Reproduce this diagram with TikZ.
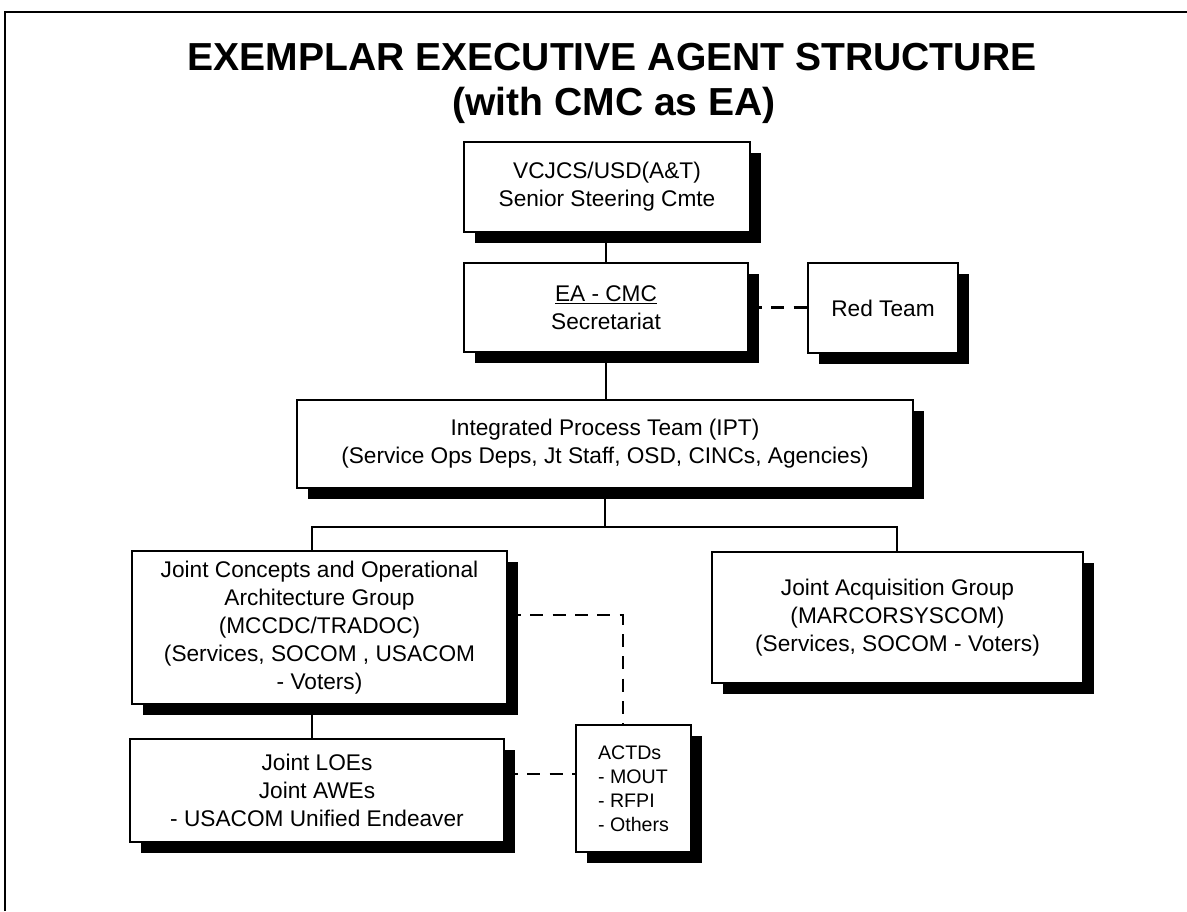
\documentclass[tikz,border=0pt]{standalone}
\usepackage{fontspec}
\setmainfont{Liberation Sans}
\usetikzlibrary{shadows,backgrounds}
\begin{document}
\begin{tikzpicture}[x=0.75pt,y=-0.75pt,
  box/.style={draw, line width=1.5pt, fill=white, inner sep=0pt, align=center,
    font=\fontsize{17}{21}\selectfont,
    drop shadow={shadow xshift=8.25pt, shadow yshift=-8.25pt, fill=black, opacity=1}},
  conn/.style={line width=1.3pt},
  dashconn/.style={line width=1.6pt, dash pattern=on 9.75pt off 7pt},
  titlefont/.style={font=\bfseries\fontsize{29.3}{37.5}\selectfont, anchor=base, inner sep=0pt}]
\useasboundingbox (0,0) rectangle (1187,911);

% frame
\draw[line width=2.2pt] (5,911) -- (5,12) -- (1187,12);

% title
\node[titlefont] (t1) at (612,70) {EXEMPLAR EXECUTIVE AGENT STRUCTURE};
\node[titlefont] (t2) at (614,115) {(with CMC as EA)};

% boxes
\node[box, minimum width=214.5pt, minimum height=67.5pt] (vc) at (607,187)
  {VCJCS/USD(A\&T)\\Senior Steering Cmte};
\node[box, minimum width=213pt, minimum height=66.75pt] (ea) at (606,307.5)
  {\underline{EA - CMC}\\Secretariat};
\node[box, minimum width=112.5pt, minimum height=67.5pt] (red) at (883,308)
  {Red Team};
\node[box, minimum width=462pt, minimum height=66pt] (ipt) at (605,444)
  {Integrated Process Team (IPT)\\(Service Ops Deps, Jt Staff, OSD, CINCs, Agencies)};
\node[box, minimum width=281.25pt, minimum height=114.75pt] (jc) at (319.5,627.5)
  {Joint Concepts and Operational\\Architecture Group\\(MCCDC/TRADOC)\\(Services, SOCOM , USACOM\\- Voters)};
\node[box, minimum width=278.25pt, minimum height=98.25pt] (ja) at (897.5,617.5)
  {Joint Acquisition Group\\(MARCORSYSCOM)\\(Services, SOCOM - Voters)};
\node[box, minimum width=280.5pt, minimum height=77.25pt] (loe) at (317,790.5)
  {Joint LOEs\\Joint AWEs\\- USACOM Unified Endeaver};
\node[box, align=left, font=\fontsize{14.7}{18}\selectfont,
  minimum width=86.25pt, minimum height=95.25pt] (actd) at (633.5,788.5)
  {ACTDs\\- MOUT\\- RFPI\\- Others};

% connectors
\begin{scope}[on background layer]
  \coordinate (bl) at (312,527);
  \coordinate (br) at (897,527);
  \coordinate (dk) at (623,615);
  \coordinate (dl) at (540,774);
  \draw[conn] (ea.north) -- (ea.north |- vc.south);
  \draw[conn] (ea.south) -- (ea.south |- ipt.north);
  \draw[conn] (ipt.south) -- (ipt.south |- bl);
  \draw[conn] (bl |- jc.north) -- (bl) -- (br) -- (br |- ja.north);
  \draw[conn] (bl |- jc.south) -- (bl |- loe.north);
  \draw[dashconn] (ea.east) -- (ea.east -| red.west);
  \draw[dashconn] (jc.east |- dk) -- (dk) -- (dk |- actd.north);
  \draw[dashconn] (loe.east |- dl) -- (actd.west |- dl);
\end{scope}
\end{tikzpicture}
\end{document}
